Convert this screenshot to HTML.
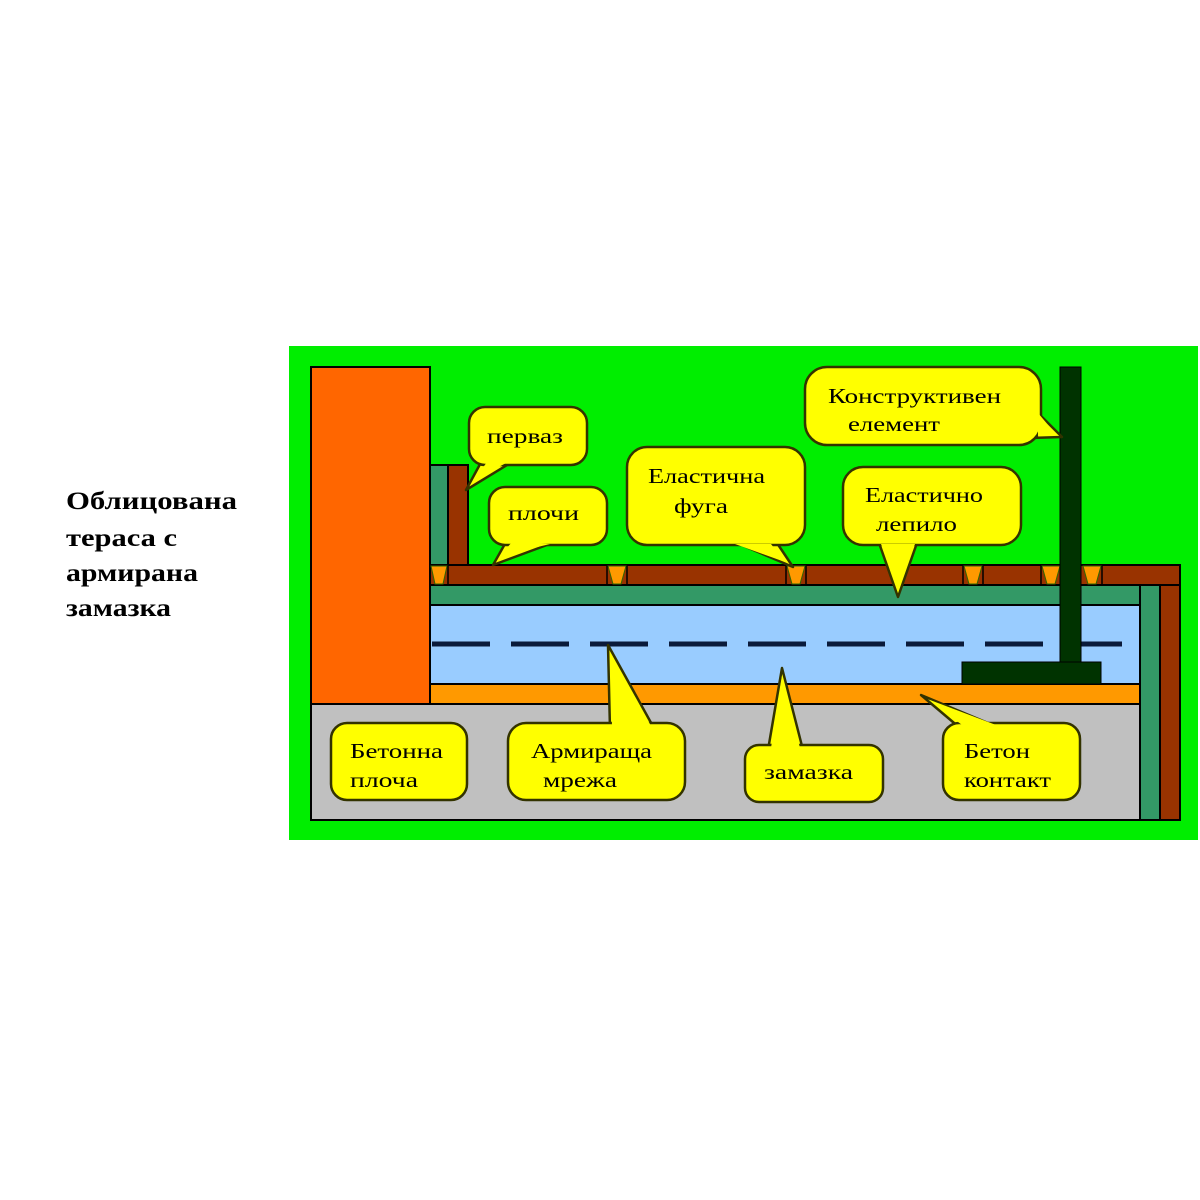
<!DOCTYPE html>
<html><head><meta charset="utf-8">
<style>
html,body{margin:0;padding:0;background:#fff;width:1200px;height:1200px;overflow:hidden}
svg{display:block}
text{font-family:"Liberation Serif","DejaVu Serif",serif;fill:#000}
</style></head>
<body>
<svg width="1200" height="1200" viewBox="0 0 1200 1200" xmlns="http://www.w3.org/2000/svg">
<rect width="1200" height="1200" fill="#fff"/>
<g font-weight="bold" font-size="25" style="font-family:'Liberation Serif',serif" lengthAdjust="spacingAndGlyphs">
<text x="66" y="509" textLength="171" lengthAdjust="spacingAndGlyphs">Облицована</text>
<text x="66" y="546" textLength="111" lengthAdjust="spacingAndGlyphs">тераса с</text>
<text x="66" y="581" textLength="132" lengthAdjust="spacingAndGlyphs">армирана</text>
<text x="66" y="616" textLength="105" lengthAdjust="spacingAndGlyphs">замазка</text>
</g>
<rect x="289" y="346" width="909" height="494" fill="#00ee00"/>
<g stroke="#000" stroke-width="2">
<rect x="311" y="704" width="829" height="116" fill="#c0c0c0"/>
<rect x="311" y="367" width="119" height="337" fill="#ff6600"/>
<rect x="430" y="684" width="710" height="20" fill="#ff9900"/>
<rect x="430" y="605" width="710" height="79" fill="#99ccff"/>
<rect x="430" y="585" width="710" height="20" fill="#339966"/>
<rect x="1140" y="585" width="20" height="235" fill="#339966"/>
<rect x="1160" y="565" width="20" height="255" fill="#993300"/>
<rect x="430" y="465" width="18" height="100" fill="#339966"/>
<rect x="448" y="465" width="20" height="100" fill="#993300"/>
<rect x="430" y="565" width="750" height="20" fill="#993300"/>
</g>
<g fill="#ff9900" stroke="#336600" stroke-width="1">
<polygon points="431,566 447,566 443,584 435,584"/>
<polygon points="608,566 626,566 621,584 613,584"/>
<polygon points="787,566 805,566 800,584 792,584"/>
<polygon points="964,566 982,566 977,584 969,584"/>
<polygon points="1042,566 1060,566 1055,584 1047,584"/>
<polygon points="1083,566 1101,566 1096,584 1088,584"/>
</g>
<g stroke="#000" stroke-width="1.5">
<line x1="448" y1="566" x2="448" y2="584"/><line x1="607" y1="566" x2="607" y2="584"/><line x1="627" y1="566" x2="627" y2="584"/>
<line x1="786" y1="566" x2="786" y2="584"/><line x1="806" y1="566" x2="806" y2="584"/><line x1="963" y1="566" x2="963" y2="584"/>
<line x1="983" y1="566" x2="983" y2="584"/><line x1="1041" y1="566" x2="1041" y2="584"/><line x1="1102" y1="566" x2="1102" y2="584"/>
</g>
<line x1="432" y1="644" x2="1125" y2="644" stroke="#0a1a3a" stroke-width="5" stroke-dasharray="58,21"/>
<rect x="1060" y="367" width="21" height="296" fill="#003300" stroke="#000" stroke-width="1"/>
<rect x="962" y="662" width="139" height="22" fill="#003300" stroke="#000" stroke-width="1"/>

<g fill="#ffff00" stroke="#333300" stroke-width="2.5" stroke-linejoin="round">
<polygon points="485,455 466,490 512,462"/>
<rect x="469" y="407" width="118" height="58" rx="16"/>
<polygon points="510,535 493,565 555,542"/>
<rect x="489" y="487" width="118" height="58" rx="16"/>
<polygon points="730,540 793,567 775,540"/>
<rect x="627" y="447" width="178" height="98" rx="20"/>
<polygon points="1035,410 1062,437 1030,438"/>
<rect x="805" y="367" width="236" height="78" rx="22"/>
<polygon points="878,540 898,597 918,540"/>
<rect x="843" y="467" width="178" height="78" rx="20"/>
<rect x="331" y="723" width="136" height="77" rx="16"/>
<polygon points="610,730 608,645 655,730"/>
<rect x="508" y="723" width="177" height="77" rx="18"/>
<polygon points="768,750 782,668 803,750"/>
<rect x="745" y="745" width="138" height="57" rx="14"/>
<polygon points="960,728 921,695 1000,728"/>
<rect x="943" y="723" width="137" height="77" rx="16"/>
</g>
<g fill="#ffff00">
<polygon points="487,462 474,480 508,462"/>
<polygon points="512,542 500,556 550,544"/>
<polygon points="735,544 785,562 771,544"/>
<polygon points="1038,413 1054,432 1038,436"/>
<polygon points="881,544 898,590 915,544"/>
<polygon points="612,726 610,652 651,726"/>
<polygon points="771,748 782,676 800,748"/>
<polygon points="962,725 930,700 996,725"/>
</g>
<g font-size="21">
<text x="487" y="443" textLength="76" lengthAdjust="spacingAndGlyphs">перваз</text>
<text x="508" y="520" textLength="71" lengthAdjust="spacingAndGlyphs">плочи</text>
<text x="648" y="483" textLength="117" lengthAdjust="spacingAndGlyphs">Еластична</text>
<text x="674" y="513" textLength="54" lengthAdjust="spacingAndGlyphs">фуга</text>
<text x="828" y="403" textLength="173" lengthAdjust="spacingAndGlyphs">Конструктивен</text>
<text x="848" y="431" textLength="92" lengthAdjust="spacingAndGlyphs">елемент</text>
<text x="865" y="502" textLength="118" lengthAdjust="spacingAndGlyphs">Еластично</text>
<text x="876" y="531" textLength="81" lengthAdjust="spacingAndGlyphs">лепило</text>
<text x="350" y="758" textLength="93" lengthAdjust="spacingAndGlyphs">Бетонна</text>
<text x="350" y="787" textLength="68" lengthAdjust="spacingAndGlyphs">плоча</text>
<text x="531" y="758" textLength="121" lengthAdjust="spacingAndGlyphs">Армираща</text>
<text x="543" y="787" textLength="74" lengthAdjust="spacingAndGlyphs">мрежа</text>
<text x="764" y="779" textLength="89" lengthAdjust="spacingAndGlyphs">замазка</text>
<text x="964" y="758" textLength="66" lengthAdjust="spacingAndGlyphs">Бетон</text>
<text x="964" y="787" textLength="87" lengthAdjust="spacingAndGlyphs">контакт</text>
</g>
</svg>
</body></html>
